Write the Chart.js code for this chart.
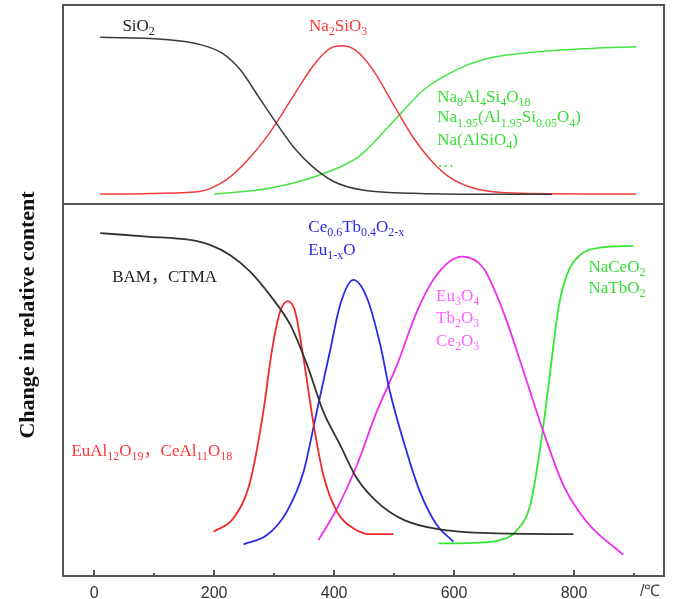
<!DOCTYPE html>
<html>
<head>
<meta charset="utf-8">
<script src="https://cdn.jsdelivr.net/npm/chart.js@4.4.0/dist/chart.umd.min.js"></script>
<style>
  body { margin: 0; background: #fff; }
  #wrap { width: 674px; height: 599px; }
</style>
</head>
<body>
<div id="wrap"><canvas id="phaseChart" width="674" height="599"></canvas></div>
<script>
// top panel (temperature in C, relative content)
const topX_SiO2 = [10, 113, 173, 214, 244, 274, 304, 334, 364, 400, 447, 531, 650, 763];
const topY_SiO2 = [83.8, 82.8, 80.4, 75.7, 67.3, 53.9, 40.5, 28.0, 18.8, 11.2, 7.0, 5.4, 4.9, 4.9];

const topX_Na2SiO3 = [10, 173, 220, 256, 292, 328, 364, 391, 412, 435, 465, 501, 531, 561, 591, 633, 710, 904];
const topY_Na2SiO3 = [5.0, 6.2, 12.1, 22.1, 35.5, 52.3, 69.0, 77.7, 79.5, 77.4, 67.3, 48.9, 33.8, 22.1, 13.7, 7.9, 5.4, 5.0];

const topX_NaAlSi = [200, 292, 376, 441, 501, 549, 603, 651, 740, 830, 904];
const topY_NaAlSi = [4.9, 7.9, 14.6, 23.8, 42.2, 57.3, 67.3, 72.7, 76.5, 78.2, 79.0];

// bottom panel
const botX_BAM = [10, 88, 160, 193, 227, 260, 293, 327, 355, 382, 410, 438, 471, 516, 571, 660, 799];
const botY_BAM = [110.6, 109.5, 108.4, 106.8, 103.5, 98.2, 90.6, 81.0, 68.1, 53.0, 42.3, 31.5, 24.0, 18.1, 15.2, 13.8, 13.5];

const botX_EuAl = [199, 232, 260, 282, 296, 310, 323, 335, 349, 366, 382, 405, 432, 460, 499];
const botY_EuAl = [14.3, 18.6, 30.4, 53.0, 72.4, 85.3, 88.7, 85.3, 70.2, 48.7, 32.6, 20.7, 15.4, 13.5, 13.5];

const botX_CeTb = [249, 288, 321, 349, 371, 393, 410, 432, 455, 477, 493, 516, 543, 571, 599];
const botY_CeTb = [10.2, 13.2, 20.7, 33.6, 53.0, 72.4, 87.4, 95.5, 89.6, 74.5, 59.5, 43.3, 27.2, 16.5, 11.1];

const botX_Eu3O4 = [374, 405, 438, 471, 505, 538, 571, 613, 649, 682, 716, 749, 782, 821, 882];
const botY_Eu3O4 = [11.6, 21.8, 35.8, 53.0, 68.1, 85.3, 97.1, 103.0, 99.3, 85.3, 65.9, 46.5, 29.4, 17.5, 6.8];

const botX_NaCeO2 = [574, 632, 677, 705, 727, 741, 752, 763, 774, 788, 810, 843, 899];
const botY_NaCeO2 = [10.5, 10.7, 11.6, 14.8, 22.9, 38.0, 53.0, 70.2, 86.4, 97.1, 103.5, 105.9, 106.5];

const xTickLabels = [0, 200, 400, 600, 800];

// text labels, {} = subscript
const notes = [
  { axis: "yTop", x: 47, y: 86.9, text: "SiO{2}", color: "#222" },
  { axis: "yTop", x: 358, y: 86.9, text: "Na{2}SiO{3}", color: "#ff3535" },
  { axis: "yTop", x: 572, y: 51.5, text: "Na{8}Al{4}Si{4}O{18}", color: "#35dd35" },
  { axis: "yTop", x: 572, y: 41.0, text: "Na{1.95}(Al{1.95}Si{0.05}O{4})", color: "#35dd35" },
  { axis: "yTop", x: 572, y: 29.6, text: "Na(AlSiO{4})", color: "#35dd35" },
  { axis: "yTop", x: 572, y: 18.6, text: "…", color: "#35dd35" },
  { axis: "yBot", x: 357, y: 111.0, text: "Ce{0.6}Tb{0.4}O{2-x}", color: "#2a2ae6" },
  { axis: "yBot", x: 357, y: 103.5, text: "Eu{1-x}O", color: "#2a2ae6" },
  { axis: "yBot", x: 30, y: 95.0, text: "BAM，CTMA", color: "#222" },
  { axis: "yBot", x: 570, y: 88.7, text: "Eu{3}O{4}", color: "#ff5cff" },
  { axis: "yBot", x: 570, y: 81.6, text: "Tb{2}O{3}", color: "#ff5cff" },
  { axis: "yBot", x: 570, y: 74.2, text: "Ce{2}O{3}", color: "#ff5cff" },
  { axis: "yBot", x: 824, y: 98.2, text: "NaCeO{2}", color: "#35dd35" },
  { axis: "yBot", x: 824, y: 91.3, text: "NaTbO{2}", color: "#35dd35" },
  { axis: "yBot", x: -38, y: 38.7, text: "EuAl{12}O{19}，CeAl{11}O{18}", color: "#ff3535" }
];

const serif = '"Liberation Serif", "Times New Roman", "Noto Sans CJK SC", serif';

function pts(xs, ys) {
  return xs.map((x, i) => ({ x: x, y: ys[i] }));
}

function drawChem(ctx, str, x, y, color, size) {
  const parts = str.split(/\{([^}]*)\}/);
  ctx.fillStyle = color;
  ctx.textBaseline = "alphabetic";
  ctx.textAlign = "left";
  let cx = x;
  parts.forEach((p, i) => {
    if (!p) return;
    if (i % 2 === 1) {
      ctx.font = Math.round(size * 0.68) + "px " + serif;
      ctx.fillText(p, cx, y + size * 0.25);
    } else {
      ctx.font = size + "px " + serif;
      ctx.fillText(p, cx, y);
    }
    cx += ctx.measureText(p).width;
  });
}

const decor = {
  id: "decor",
  afterDraw(chart) {
    const ctx = chart.ctx;
    const a = chart.chartArea;
    const xs = chart.scales.x;
    const yTop = chart.scales.yTop;
    ctx.save();
    ctx.strokeStyle = "#555";
    ctx.lineWidth = 2;
    ctx.strokeRect(a.left, a.top, a.right - a.left, a.bottom - a.top);
    ctx.beginPath();
    ctx.moveTo(a.left, yTop.bottom);
    ctx.lineTo(a.right, yTop.bottom);
    ctx.stroke();

    // inward tick marks
    for (let v = 0; v <= 900; v += 100) {
      const px = Math.round(xs.getPixelForValue(v));
      const len = v % 200 === 0 ? 6 : 3;
      ctx.beginPath();
      ctx.moveTo(px, a.bottom);
      ctx.lineTo(px, a.bottom - len);
      ctx.stroke();
    }

    ctx.fillStyle = "#444";
    ctx.font = '16px "Liberation Sans", Arial, sans-serif';
    ctx.textAlign = "left";
    ctx.textBaseline = "middle";
    ctx.fillText("/℃", xs.getPixelForValue(910), 592);

    // y title
    ctx.save();
    ctx.translate(28, 315);
    ctx.rotate(-Math.PI / 2);
    ctx.fillStyle = "#111";
    ctx.font = "bold 22px " + serif;
    ctx.textAlign = "center";
    ctx.textBaseline = "middle";
    ctx.fillText("Change in relative content", 0, 0);
    ctx.restore();

    notes.forEach(n => {
      const sc = chart.scales[n.axis];
      drawChem(ctx, n.text, xs.getPixelForValue(n.x), sc.getPixelForValue(n.y), n.color, 17);
    });
    ctx.restore();
  }
};

function line(data, color, axis, width) {
  return {
    data: data,
    borderColor: color,
    borderWidth: width,
    pointRadius: 0,
    fill: false,
    cubicInterpolationMode: "monotone",
    yAxisID: axis
  };
}

const hidden = {
  ticks: { display: false },
  grid: { display: false, drawTicks: false, tickLength: 0 },
  border: { display: false }
};

new Chart(document.getElementById("phaseChart"), {
  type: "line",
  data: {
    datasets: [
      line(pts(topX_SiO2, topY_SiO2), "#3a3a3a", "yTop", 1.5),
      line(pts(topX_Na2SiO3, topY_Na2SiO3), "#f03c3c", "yTop", 1.5),
      line(pts(topX_NaAlSi, topY_NaAlSi), "#44e444", "yTop", 1.5),
      line(pts(botX_BAM, botY_BAM), "#333333", "yBot", 1.8),
      line(pts(botX_EuAl, botY_EuAl), "#f02a2a", "yBot", 1.8),
      line(pts(botX_CeTb, botY_CeTb), "#2a2ae6", "yBot", 1.8),
      line(pts(botX_Eu3O4, botY_Eu3O4), "#f02cf0", "yBot", 1.8),
      line(pts(botX_NaCeO2, botY_NaCeO2), "#33e633", "yBot", 1.8)
    ]
  },
  options: {
    responsive: false,
    animation: false,
    layout: { padding: { left: 63, right: 10, top: 5, bottom: 0 } },
    plugins: {
      legend: { display: false },
      tooltip: { enabled: false }
    },
    scales: {
      x: {
        type: "linear",
        min: -52,
        max: 950,
        grid: { display: false, drawTicks: false, tickLength: 0 },
        border: { display: false },
        afterBuildTicks: s => { s.ticks = xTickLabels.map(v => ({ value: v })); },
        ticks: {
          autoSkip: false,
          padding: 8,
          color: "#333",
          font: { family: '"Liberation Sans", Arial, sans-serif', size: 16 }
        },
        afterFit: s => { s.height = 23; }
      },
      yBot: Object.assign({
        type: "linear", position: "left", stack: "panels", stackWeight: 372, min: 0, max: 120
      }, hidden),
      yTop: Object.assign({
        type: "linear", position: "left", stack: "panels", stackWeight: 199, min: 0, max: 100
      }, hidden)
    }
  },
  plugins: [decor]
});
</script>
</body>
</html>
